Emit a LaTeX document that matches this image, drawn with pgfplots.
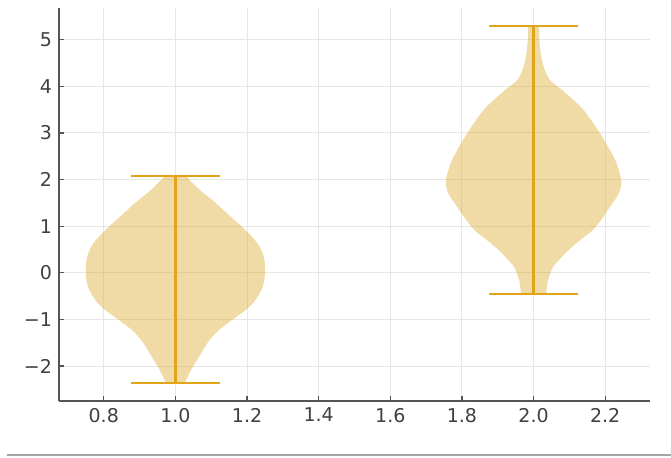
\documentclass[border=0pt]{standalone}
\usepackage{fontspec}
\setmainfont{DejaVu Sans}
\usepackage{pgfplots}
\usepackage{pgfplotstable}
\pgfplotsset{compat=1.18}
\usepgfplotslibrary{fillbetween}

\definecolor{vline}{RGB}{225,165,25}
\definecolor{vfill}{RGB}{218,165,32}
\definecolor{spine}{RGB}{85,85,85}
\definecolor{gridc}{RGB}{230,230,230}

% violin outlines: height y and half-width w of the density profile
\pgfplotstableread{
y w
2.07 0.030
1.80 0.065
1.50 0.112
1.20 0.155
0.90 0.198
0.60 0.232
0.30 0.248
0.00 0.250
-0.30 0.244
-0.60 0.222
-0.80 0.196
-1.00 0.160
-1.25 0.118
-1.50 0.090
-1.80 0.066
-2.05 0.046
-2.37 0.026
}\violinA

\pgfplotstableread{
y w
5.30 0.015
5.00 0.016
4.70 0.020
4.42 0.028
4.14 0.045
3.92 0.080
3.70 0.112
3.49 0.140
3.00 0.185
2.48 0.224
2.20 0.238
1.94 0.245
1.70 0.238
1.40 0.212
1.15 0.190
0.90 0.163
0.70 0.130
0.47 0.095
0.25 0.068
0.11 0.053
-0.17 0.040
-0.45 0.035
}\violinB

\begin{document}
\begin{tikzpicture}
\begin{axis}[
  at={(0,0)}, anchor=south west,
  scale only axis, width=295.5pt, height=196.5pt,
  xmin=0.675, xmax=2.325, ymin=-2.75, ymax=5.68,
  axis lines*=left,
  axis line style={spine, line width=0.8pt},
  xtick={0.8,1.0,1.2,1.4,1.6,1.8,2.0,2.2},
  xticklabels={0.8,1.0,1.2,1.4,1.6,1.8,2.0,2.2},
  ytick={-2,-1,0,1,2,3,4,5},
  yticklabels={−2,−1,0,1,2,3,4,5},
  tick align=inside, major tick length=2.5pt,
  tick style={spine, line width=0.6pt},
  grid=major, major grid style={gridc, line width=0.5pt},
  ticklabel style={font=\fontsize{9.5}{11}\selectfont, text=black!75},
  /pgf/number format/assume math mode=true,
]
  % first violin
  \addplot[name path=ar, draw=none, smooth] table[x expr=1+\thisrow{w}, y=y] {\violinA};
  \addplot[name path=al, draw=none, smooth] table[x expr=1-\thisrow{w}, y=y] {\violinA};
  \addplot[vfill, fill opacity=0.4, draw=none] fill between[of=ar and al, reverse=true];
  % second violin
  \addplot[name path=br, draw=none, smooth] table[x expr=2+\thisrow{w}, y=y] {\violinB};
  \addplot[name path=bl, draw=none, smooth] table[x expr=2-\thisrow{w}, y=y] {\violinB};
  \addplot[vfill, fill opacity=0.4, draw=none] fill between[of=br and bl, reverse=true];
  % extrema bars and caps
  \addplot[vline, line width=1.1pt] coordinates {(1,-2.37) (1,2.07)};
  \addplot[vline, line width=1.1pt] coordinates {(0.875,2.07) (1.125,2.07)};
  \addplot[vline, line width=1.1pt] coordinates {(0.875,-2.37) (1.125,-2.37)};
  \addplot[vline, line width=1.1pt] coordinates {(2,-0.45) (2,5.30)};
  \addplot[vline, line width=1.1pt] coordinates {(1.875,5.30) (2.125,5.30)};
  \addplot[vline, line width=1.1pt] coordinates {(1.875,-0.45) (2.125,-0.45)};
\end{axis}
\draw[black!35, line width=1pt] (-26pt,-27pt) -- (306pt,-27pt);
\pgfresetboundingbox
\useasboundingbox (-29.5pt,-28pt) rectangle (306pt,200.5pt);
\end{tikzpicture}
\end{document}
